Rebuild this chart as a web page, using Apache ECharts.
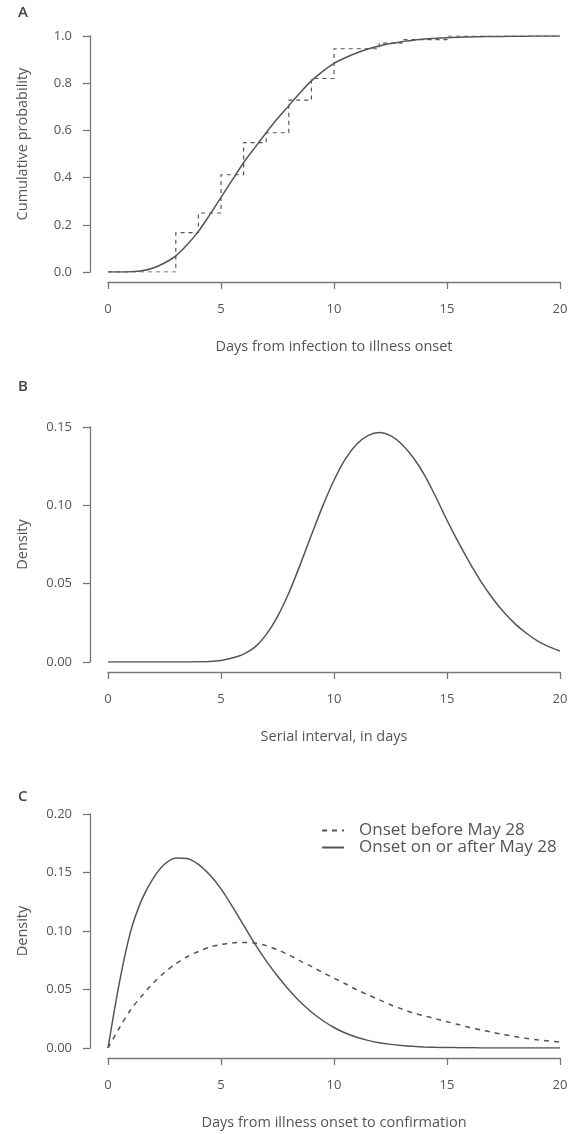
<!DOCTYPE html>
<html>
<head>
<meta charset="utf-8">
<script src="https://cdn.jsdelivr.net/npm/echarts@6/dist/echarts.min.js"></script>
<style>
  html, body { margin: 0; padding: 0; background: #fff; }
  #chart { width: 574px; height: 1134px; }
</style>
</head>
<body>
<div id="chart"></div>
<script>
// day grid shared by the smooth curves (0 to 20, half-day steps)
const days = [0, 0.5, 1, 1.5, 2, 2.5, 3, 3.5, 4, 4.5, 5, 5.5, 6, 6.5, 7, 7.5, 8, 8.5, 9, 9.5,
  10, 10.5, 11, 11.5, 12, 12.5, 13, 13.5, 14, 14.5, 15, 15.5, 16, 16.5, 17, 17.5, 18, 18.5, 19, 19.5, 20];

// A: incubation period, fitted cumulative distribution
const incubationFit = [0, 0, 0.001, 0.005, 0.017, 0.038, 0.068, 0.115, 0.172, 0.242,
  0.316, 0.39, 0.463, 0.527, 0.59, 0.65, 0.705, 0.76, 0.81, 0.85,
  0.884, 0.908, 0.928, 0.945, 0.958, 0.968, 0.976, 0.982, 0.987, 0.99,
  0.993, 0.995, 0.996, 0.997, 0.998, 0.998, 0.999, 0.999, 1.0, 1.0, 1.0];

// A: empirical cumulative distribution (step)
const stepDays = [0, 3, 4, 5, 6, 7, 8, 9, 10, 12, 13, 15, 20];
const stepProb = [0, 0.167, 0.25, 0.412, 0.548, 0.59, 0.728, 0.82, 0.946, 0.97, 0.985, 1.0, 1.0];

// B: serial interval density
const serialDensity = [0, 0, 0, 0, 0, 0, 0, 0, 0.0001, 0.0003,
  0.001, 0.0025, 0.005, 0.0095, 0.0175, 0.029, 0.044, 0.062, 0.081, 0.0995,
  0.116, 0.1295, 0.139, 0.1445, 0.1465, 0.1445, 0.139, 0.1305, 0.1195, 0.1055,
  0.0905, 0.0765, 0.0635, 0.0515, 0.041, 0.032, 0.0245, 0.0185, 0.0135, 0.0098, 0.007];

// C: onset to confirmation densities
const beforeMay28 = [0, 0.017, 0.0327, 0.0446, 0.0555, 0.0645, 0.072, 0.078, 0.0825, 0.0862,
  0.0884, 0.0898, 0.0902, 0.0897, 0.0875, 0.084, 0.0796, 0.0745, 0.0697, 0.0645,
  0.0597, 0.0549, 0.0498, 0.0455, 0.0412, 0.037, 0.0333, 0.030, 0.0275, 0.025,
  0.0225, 0.02, 0.0175, 0.0155, 0.0135, 0.0115, 0.0098, 0.0083, 0.007, 0.006, 0.005];
const afterMay28 = [0, 0.0555, 0.0995, 0.127, 0.145, 0.157, 0.1625, 0.162, 0.157, 0.148,
  0.136, 0.121, 0.105, 0.089, 0.0745, 0.0615, 0.0498, 0.0395, 0.0308, 0.0235,
  0.0175, 0.0128, 0.0092, 0.0065, 0.0045, 0.0031, 0.0021, 0.0014, 0.0009, 0.0006,
  0.0004, 0.0003, 0.0002, 0.0001, 0.0001, 0, 0, 0, 0, 0, 0];

const pair = (xs, ys) => xs.map((x, i) => [x, ys[i]]);

const FONT = 'Open Sans';
const TXT = '#555';
const AX = '#777';
const LINE = '#555';

function xAxisFor(idx, name) {
  return {
    gridIndex: idx, type: 'value', min: 0, max: 20, interval: 5,
    offset: 10,
    axisLine: { show: true, onZero: false, lineStyle: { color: AX, width: 1.3 } },
    axisTick: { show: true, length: 7, lineStyle: { color: AX, width: 1.3 } },
    axisLabel: { color: TXT, fontSize: 13, fontFamily: FONT, margin: 21 },
    splitLine: { show: false },
    name: name, nameLocation: 'middle', nameGap: 57,
    nameTextStyle: { color: TXT, fontSize: 14.5, fontFamily: FONT }
  };
}

function yAxisFor(idx, max, interval, digits, name, shift) {
  return {
    gridIndex: idx, type: 'value', min: 0, max: max, interval: interval,
    offset: 18,
    axisLine: { show: true, onZero: false, lineStyle: { color: AX, width: 1.3 } },
    axisTick: { show: true, length: 7, lineStyle: { color: AX, width: 1.3 } },
    axisLabel: { color: TXT, fontSize: 13, fontFamily: FONT, margin: 18,
      formatter: v => v.toFixed(digits) },
    splitLine: { show: false },
    name: name, nameLocation: 'middle', nameGap: 60,
    nameTextStyle: { color: TXT, fontSize: 14.5, fontFamily: FONT, padding: [0, 0, 0, shift] }
  };
}

const chart = echarts.init(document.getElementById('chart'));

const option = {
  animation: false,
  backgroundColor: '#fff',
  title: [
    { text: 'A', left: 13, top: 0 },
    { text: 'B', left: 13, top: 374 },
    { text: 'C', left: 13, top: 784 }
  ].map(t => Object.assign(t, { textStyle: { color: '#444', fontSize: 15, fontWeight: 600, fontFamily: FONT } })),
  grid: [
    { left: 108, top: 36, width: 452, height: 236 },
    { left: 108, top: 427, width: 452, height: 235 },
    { left: 108, top: 814, width: 452, height: 234 }
  ],
  xAxis: [
    xAxisFor(0, 'Days from infection to illness onset'),
    xAxisFor(1, 'Serial interval, in days'),
    xAxisFor(2, 'Days from illness onset to confirmation')
  ],
  yAxis: [
    yAxisFor(0, 1, 0.2, 1, 'Cumulative probability', 20),
    yAxisFor(1, 0.15, 0.05, 2, 'Density', 0),
    yAxisFor(2, 0.2, 0.05, 2, 'Density', 0)
  ],
  legend: {
    orient: 'vertical', left: 316, top: 817, itemGap: 0,
    itemWidth: 22, itemHeight: 10,
    itemStyle: { opacity: 0 },
    textStyle: { color: TXT, fontSize: 17, lineHeight: 17, fontFamily: FONT, padding: [0, 0, 0, 10] },
    data: ['Onset before May 28', 'Onset on or after May 28']
  },
  series: [
    {
      name: 'Empirical', type: 'line', xAxisIndex: 0, yAxisIndex: 0,
      data: pair(stepDays, stepProb), step: 'end', symbol: 'none',
      lineStyle: { color: LINE, width: 1.2, type: [4, 4] }
    },
    {
      name: 'Fitted', type: 'line', xAxisIndex: 0, yAxisIndex: 0,
      data: pair(days, incubationFit), smooth: 0.3, symbol: 'none',
      lineStyle: { color: LINE, width: 1.5 }
    },
    {
      name: 'Serial interval', type: 'line', xAxisIndex: 1, yAxisIndex: 1,
      data: pair(days, serialDensity), smooth: 0.3, symbol: 'none',
      lineStyle: { color: LINE, width: 1.5 }
    },
    {
      name: 'Onset before May 28', type: 'line', xAxisIndex: 2, yAxisIndex: 2,
      data: pair(days, beforeMay28), smooth: 0.3, symbol: 'none',
      color: LINE,
      lineStyle: { color: LINE, width: 1.5, type: [5, 5] }
    },
    {
      name: 'Onset on or after May 28', type: 'line', xAxisIndex: 2, yAxisIndex: 2,
      data: pair(days, afterMay28), smooth: 0.3, symbol: 'none',
      color: LINE,
      lineStyle: { color: LINE, width: 1.5 }
    }
  ]
};

chart.setOption(option);
</script>
</body>
</html>
